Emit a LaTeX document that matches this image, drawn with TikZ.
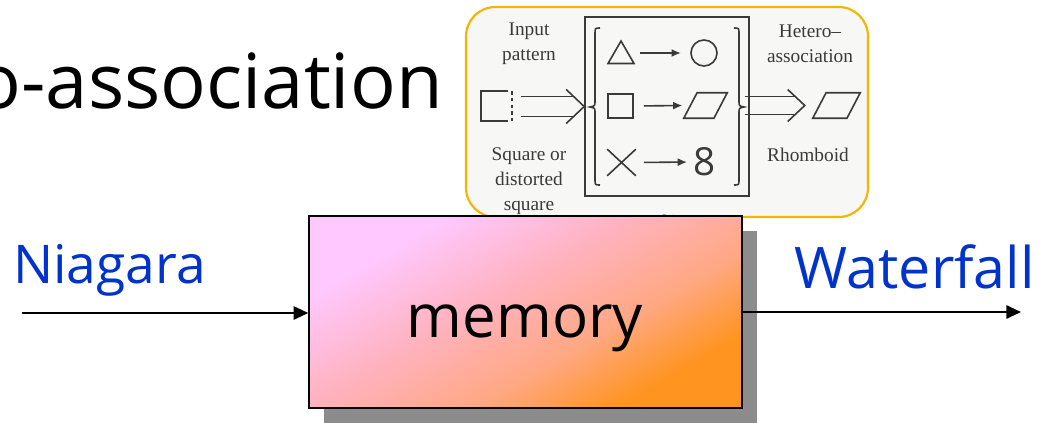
\documentclass[tikz,border=0pt]{standalone}
\usepackage{fontspec}
\setmainfont{Liberation Serif}
\newfontfamily\comicfont{Open Sans}
\usetikzlibrary{arrows.meta,positioning,calc,shapes.geometric,shapes.misc,shadows}
\definecolor{insetgold}{HTML}{F5B400}
\definecolor{insetfill}{HTML}{F7F7F5}
\definecolor{scanink}{HTML}{3A3A3A}
\definecolor{labelblue}{HTML}{0033CC}
\definecolor{mempink}{HTML}{FFC8FF}
\definecolor{memsalmon}{HTML}{FFB2BE}
\definecolor{mempeach}{HTML}{FFA884}
\definecolor{memorange}{HTML}{FF9420}
\definecolor{shadowgray}{HTML}{8C8C8C}
\pgfdeclareverticalshading{memshade}{100bp}{color(0bp)=(memorange); color(27bp)=(memorange); color(40bp)=(mempeach); color(55bp)=(memsalmon); color(72bp)=(mempink); color(100bp)=(mempink)}
\tikzset{
  scanline/.style={draw=scanink, line width=1.2pt},
  scantext/.style={text=scanink, align=center, inner sep=0pt, font=\fontsize{14.5}{18.5}\selectfont},
  shapebox/.style={scanline, inner sep=0pt},
  rhombslot/.style={inner sep=0pt, minimum height=18.75pt},
  sarrow/.style={scanline, -{Latex[length=7pt, width=6pt]}},
  memblock/.style={draw=black, line width=1.1pt, shading=memshade, shading angle=30, minimum width=324.75pt, minimum height=144pt, drop shadow={shadow xshift=11.25pt, shadow yshift=-11.25pt, fill=shadowgray, opacity=1}},
  flowlabel/.style={text=labelblue, inner sep=0pt, font=\comicfont\fontsize{40}{44}\selectfont},
  flow/.style={-{Triangle[length=11pt, width=10pt]}, line width=1.4pt},
}
\begin{document}
\begin{tikzpicture}[x=0.75pt, y=-0.75pt]
  \useasboundingbox (0,0) rectangle (1039,422);

  % title, cut at the left edge
  \node[anchor=base east, inner sep=0pt, font=\comicfont\fontsize{57}{60}\selectfont] (title) at (443,108) {o-association};

  % scanned inset
  \draw[insetgold, line width=1.6pt, fill=insetfill, rounded corners=22pt] (466,7) rectangle (868,217);
  \node[scantext] (inlabel) at (529,44) {Input\\pattern};
  \node[scantext] (sqlabel) at (529,181) {Square or\\distorted\\square};
  \node[scantext] (hetlabel) at (810,44) {Hetero--\\association};
  \node[scantext] (rholabel) at (808,155) {Rhomboid};
  \node[scantext] (figtag) at (668,224) {(b)};

  \node[shapebox, draw=none, minimum width=21.75pt, minimum height=21pt] (insq) at (496.5,106) {};
  \draw[scanline] ([xshift=-3pt]insq.north east) -| (insq.south west) -- ([xshift=-3pt]insq.south east);
  \draw[scanline, dash pattern=on 2.5pt off 2.5pt] (insq.north east) -- (insq.south east);

  \node[shapebox, minimum width=123pt, minimum height=134.25pt] (inbox) at (667,106.5) {};
  \draw[scanline] (600,28) .. controls (595,28) .. (595,34) -- (595,101)
    .. controls (595,106) .. (590,107) .. controls (595,108) .. (595,113) -- (595,179)
    .. controls (595,185) .. (600,185);
  \draw[scanline] (734,28) .. controls (739,28) .. (739,34) -- (739,101)
    .. controls (739,106) .. (744,107) .. controls (739,108) .. (739,113) -- (739,179)
    .. controls (739,185) .. (734,185);

  \node[shapebox, regular polygon, regular polygon sides=3, minimum size=22.5pt] (tri) at (621,56) {};
  \node[shapebox, circle, minimum size=19.5pt] (circ) at (704,53) {};
  \node[shapebox, minimum width=18.75pt, minimum height=18pt] (sq) at (620.5,106) {};
  \node[rhombslot, minimum width=32.25pt] (para) at (705.5,105.5) {};
  \draw[scanline] (para.south west) -- ([xshift=-10pt]para.south east) -- (para.north east) -- ([xshift=10pt]para.north west) -- cycle;
  \node[shapebox, cross out, minimum width=20.25pt, minimum height=18.75pt] (cross) at (621.5,162.5) {};
  \node[inner sep=0pt, text=scanink, font=\comicfont\fontsize{29}{30}\selectfont] (eight) at (705,162) {8};
  \node[rhombslot, minimum width=35.25pt] (outpara) at (836.5,105.5) {};
  \draw[scanline] (outpara.south west) -- ([xshift=-10pt]outpara.south east) -- (outpara.north east) -- ([xshift=10pt]outpara.north west) -- cycle;

  \draw[sarrow, shorten <=7pt, shorten >=7pt] (circ.west -| tri.east) -- (circ.west);
  \draw[sarrow, shorten <=7.5pt, shorten >=1pt] (sq.east) -- (para.west);
  \draw[sarrow, shorten <=6pt, shorten >=5pt] (cross.east) -- (eight.west);

  % double arrows
  \coordinate (ltip) at (inbox.west);
  \draw[scanline] ([shift={(-63,-10)}]ltip) -- ([shift={(-11,-10)}]ltip)
                  ([shift={(-63,10)}]ltip) -- ([shift={(-11,10)}]ltip);
  \draw[scanline] ([shift={(-18,-17)}]ltip) -- (ltip) -- ([shift={(-18,17)}]ltip);
  \coordinate (rtip) at ([xshift=-6pt]outpara.west);
  \draw[scanline] ([shift={(-60,-9)}]rtip) -- ([shift={(-10,-9)}]rtip)
                  ([shift={(-60,9)}]rtip) -- ([shift={(-10,9)}]rtip);
  \draw[scanline] ([shift={(-17,-16)}]rtip) -- (rtip) -- ([shift={(-17,16)}]rtip);

  % memory block with its in and out
  \node[memblock] (mem) at (525.5,312) {};
  \node[anchor=base, inner sep=0pt, font=\comicfont\fontsize{45}{48}\selectfont] (memtext) at (525,337) {memory};
  \coordinate (src) at (22,313);
  \coordinate (dst) at (1021,312);
  \node[flowlabel, anchor=base west] (niagara) at (13,283) {Niagara};
  \node[flowlabel, anchor=base east, font=\comicfont\fontsize{43}{46}\selectfont] (waterfall) at (1035,288) {Waterfall};
  \draw[flow] (src) -- (src -| mem.west);
  \draw[flow] (dst -| mem.east) -- (dst);
\end{tikzpicture}
\end{document}
